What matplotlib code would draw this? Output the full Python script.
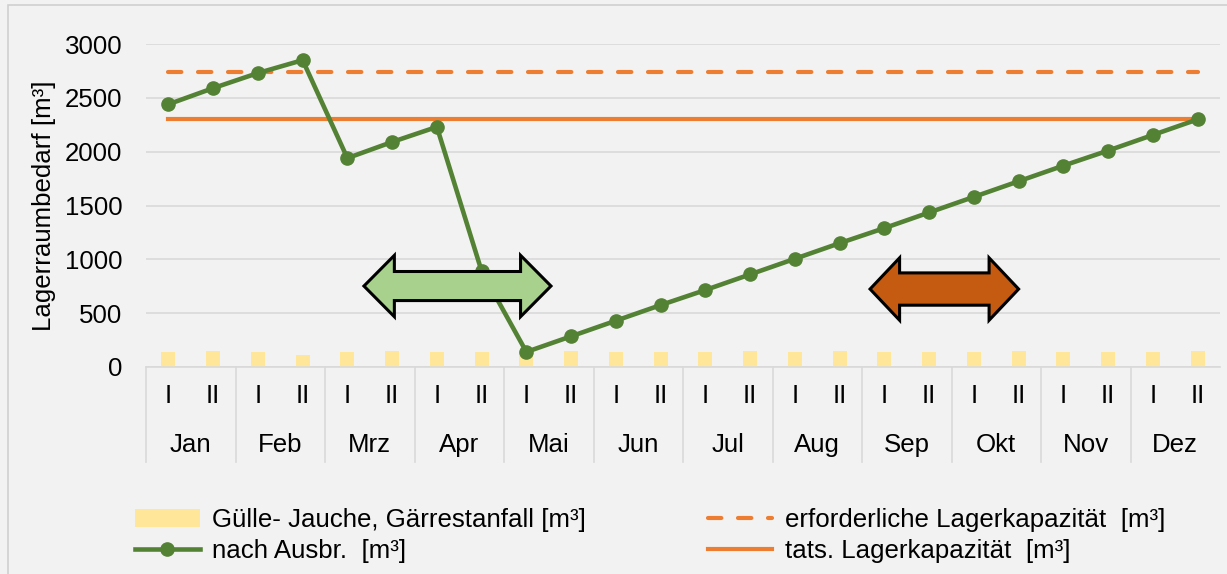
import numpy as np
import matplotlib.pyplot as plt
from matplotlib.patches import Polygon, Rectangle
from matplotlib.transforms import blended_transform_factory

plt.rcParams['font.family'] = ['Liberation Sans', 'DejaVu Sans']

# data
months = ['Jan', 'Feb', 'Mrz', 'Apr', 'Mai', 'Jun', 'Jul', 'Aug', 'Sep', 'Okt', 'Nov', 'Dez']
halves = ['I', 'II']
anfall = [135, 145, 135, 110, 135, 145, 135, 135, 135, 145, 135, 135,
          135, 145, 135, 145, 135, 135, 135, 145, 135, 135, 135, 145]
nach_ausbr = [2440, 2590, 2730, 2850, 1940, 2090, 2230, 890, 140, 285, 430, 575,
              715, 860, 1005, 1150, 1290, 1435, 1580, 1725, 1870, 2010, 2155, 2300]
erforderlich = [2740] * 24
tats = [2300] * 24

bg = '#F2F2F2'
grid_c = '#D9D9D9'
orange = '#ED7D31'
green = '#548235'
fs = 18.6

fig = plt.figure(figsize=(12.27, 5.74), dpi=100, facecolor=bg)
fig.patches.append(Rectangle((8 / 1227, -0.1), 1.2, 1.1 - 5 / 574,
                             transform=fig.transFigure, fill=False,
                             edgecolor='#D0D0D0', lw=1.2))
ax = fig.add_axes([146 / 1227, 1 - 367 / 574, (1220 - 146) / 1227, 323 / 574])
ax.set_facecolor(bg)

x = np.arange(len(nach_ausbr))
bars = ax.bar(x, anfall, width=0.31, color='#FFE699', zorder=2,
              label='Gülle- Jauche, Gärrestanfall [m³]')
l_erf, = ax.plot(x, erforderlich, color=orange, lw=3, ls=(0, (3.2, 4)),
                 dash_capstyle='round', zorder=3,
                 label='erforderliche Lagerkapazität  [m³]')
l_tats, = ax.plot(x, tats, color=orange, lw=3, zorder=3,
                  label='tats. Lagerkapazität  [m³]')
l_nach, = ax.plot(x, nach_ausbr, color=green, lw=3.3, marker='o', ms=9.5,
                  zorder=4, clip_on=False, label='nach Ausbr.  [m³]')

# double arrows (shapes)
def double_arrow(x0, x1, yc, head_len, head_h, shaft_h, color):
    pts = [(x0, yc), (x0 + head_len, yc + head_h), (x0 + head_len, yc + shaft_h),
           (x1 - head_len, yc + shaft_h), (x1 - head_len, yc + head_h), (x1, yc),
           (x1 - head_len, yc - head_h), (x1 - head_len, yc - shaft_h),
           (x0 + head_len, yc - shaft_h), (x0 + head_len, yc - head_h)]
    ax.add_patch(Polygon(pts, closed=True, facecolor=color, edgecolor='black',
                         lw=2.2, zorder=5, joinstyle='miter'))

double_arrow(4.37, 8.55, 752, 0.68, 285, 135, '#A9D18E')
double_arrow(15.68, 19.0, 724, 0.66, 290, 150, '#C55A11')

ax.set_xlim(-0.5, 23.5)
ax.set_ylim(0, 3000)
ax.set_yticks(np.arange(0, 3001, 500))
ax.yaxis.grid(True, color=grid_c, lw=1.2, zorder=0)
ax.set_axisbelow(True)
for s in ['top', 'right', 'left']:
    ax.spines[s].set_visible(False)
ax.spines['bottom'].set_color(grid_c)
ax.spines['bottom'].set_linewidth(1.2)
ax.tick_params(axis='y', length=0, labelsize=fs, pad=17)
ax.set_xticks(x)
ax.set_xticklabels(halves * len(months))
ax.tick_params(axis='x', length=0, labelsize=fs, pad=12)
ax.set_ylabel('Lagerraumbedarf [m³]', fontsize=fs, labelpad=6)

trans = blended_transform_factory(ax.transData, ax.transAxes)
for i, m in enumerate(months):
    ax.text(2 * i + 0.5, -0.2415, m, transform=trans, ha='center', va='center',
            fontsize=fs)
for i in range(len(months)):
    ax.plot([2 * i - 0.5, 2 * i - 0.5], [0, -0.294], transform=trans,
            color=grid_c, lw=1.2, clip_on=False)

fig.legend(handles=[bars, l_nach, l_erf, l_tats], ncol=2, loc='center',
           bbox_to_anchor=(0.530, 0.067), frameon=False, fontsize=fs,
           handlelength=2.5, handletextpad=0.5, columnspacing=4.7,
           labelspacing=0.3)

fig.savefig('out.png', dpi=100, facecolor=bg)
